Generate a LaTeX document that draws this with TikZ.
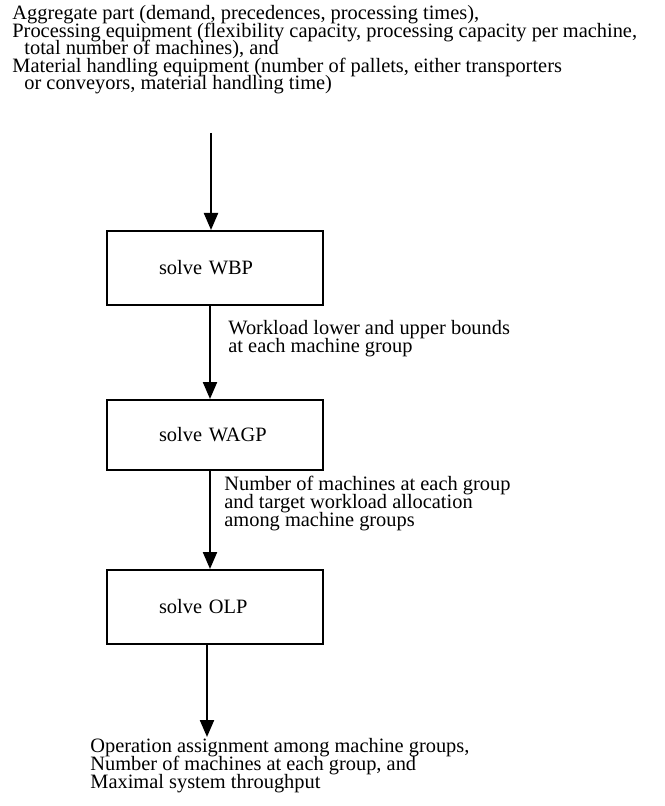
\documentclass[tikz,border=0pt]{standalone}
\usepackage{fontspec}
\setmainfont{Liberation Serif}
\usetikzlibrary{arrows.meta}
\newcommand\mytightlines{\lineskiplimit=-20pt\relax\lineskip=0pt\relax}
\begin{document}
\begin{tikzpicture}[x=0.5pt,y=-0.5pt,
  txt/.style={font=\fontsize{10.2pt}{8.8pt}\selectfont\mytightlines, inner sep=0pt, align=left},
  box/.style={draw, line width=1pt, inner sep=0pt, align=left, font=\fontsize{10.2pt}{12pt}\selectfont,
              anchor=north west, minimum width=108pt, text width=108pt},
  arr/.style={line width=1.1pt, -{Triangle[length=8.5pt,width=7pt]}}]
\useasboundingbox (0,0) rectangle (664,806);
\node[txt, anchor=base west] (top) at (12,90) {Aggregate part (demand, precedences, processing times),\\
Processing equipment (flexibility capacity, processing capacity per machine,\\
\hspace*{6pt}total number of machines), and\\
Material handling equipment (number of pallets, either transporters\\
\hspace*{6pt}or conveyors, material handling time)};
\node[box, minimum height=37pt] (wbp) at (106,230) {\hspace*{26pt}solve WBP};
\node[box, minimum height=35pt] (wagp) at (106,399) {\hspace*{26pt}solve WAGP};
\node[box, minimum height=37pt] (olp) at (106,569) {\hspace*{26pt}solve OLP};
\coordinate (start) at (211,133);
\coordinate (endp) at (207,737);
\draw[arr] (start) -- (start |- wbp.north);
\draw[arr] ([xshift=-2.5pt]wbp.south) -- ([xshift=-2.5pt]wagp.north);
\draw[arr] ([xshift=-2.5pt]wagp.south) -- ([xshift=-2.5pt]olp.north);
\draw[arr] (olp.south -| endp) -- (endp);
\node[txt, anchor=base west] (l1) at (228,352) {Workload lower and upper bounds\\at each machine group};
\node[txt, anchor=base west] (l2) at (224,526) {Number of machines at each group\\and target workload allocation\\among machine groups};
\node[txt, anchor=base west] (out) at (90,788) {Operation assignment among machine groups,\\Number of machines at each group, and\\Maximal system throughput};
\end{tikzpicture}
\end{document}
